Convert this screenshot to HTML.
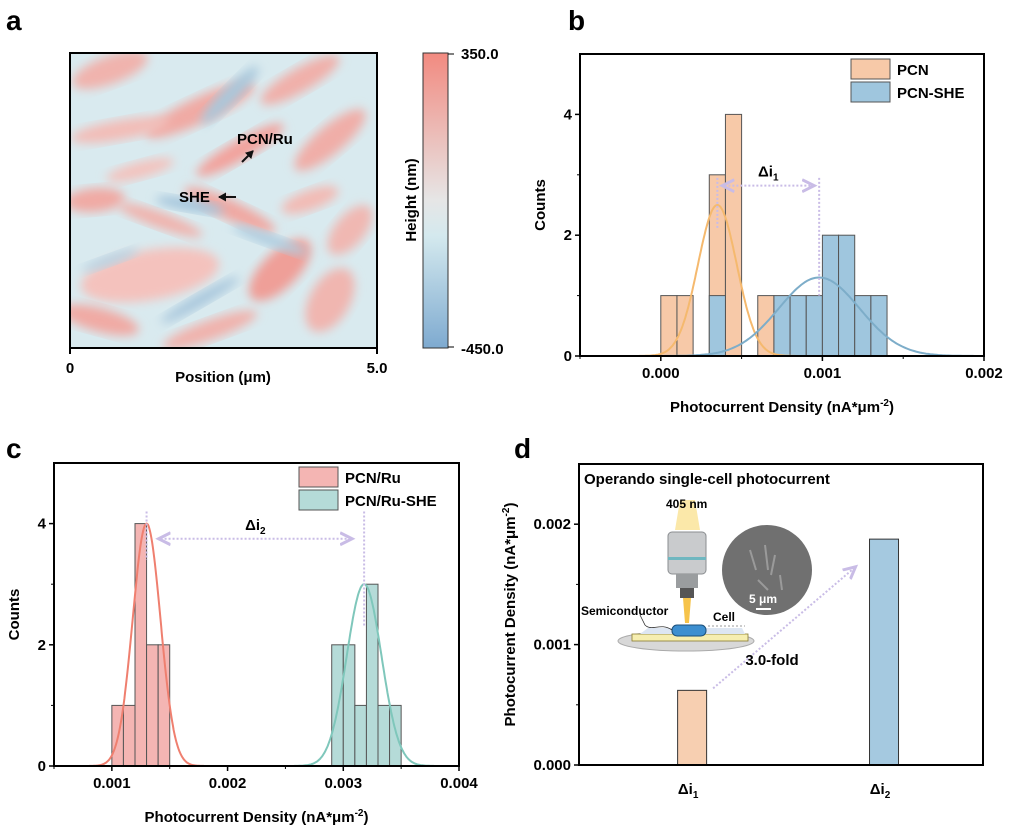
<!DOCTYPE html>
<html><head><meta charset="utf-8">
<style>
html,body{margin:0;padding:0;background:#fff;}
svg{display:block;font-family:"Liberation Sans",Arial,sans-serif;font-weight:bold;}
</style></head>
<body>
<svg id="fig" width="1013" height="829" viewBox="0 0 1013 829" xmlns="http://www.w3.org/2000/svg">
<defs>
<filter id="blur" x="-20%" y="-20%" width="140%" height="140%"><feGaussianBlur stdDeviation="5"/></filter>
<linearGradient id="cbar" x1="0" y1="0" x2="0" y2="1">
<stop offset="0" stop-color="#f28a80"/><stop offset="0.5" stop-color="#e6e6e6"/><stop offset="0.62" stop-color="#d4e9ee"/><stop offset="1" stop-color="#7eaad0"/>
</linearGradient>
<clipPath id="mapclip"><rect x="70" y="53" width="307" height="295"/></clipPath>
<marker id="ah" markerUnits="userSpaceOnUse" markerWidth="9" markerHeight="9" refX="7" refY="4.5" orient="auto"><path d="M0,0 L8,4.5 L0,9 z" fill="#111"/></marker>
<marker id="ahp" markerWidth="8" markerHeight="8" refX="5" refY="4" orient="auto-start-reverse"><path d="M0,1 L6,4 L0,7" fill="none" stroke="#c9bce6" stroke-width="1.5"/></marker>
</defs>

<text x="6" y="30" font-size="28">a</text>
<text x="568" y="30" font-size="28">b</text>
<text x="6" y="458" font-size="28">c</text>
<text x="514" y="458" font-size="28">d</text>

<g id="map" clip-path="url(#mapclip)">
<rect x="70" y="53" width="307" height="295" fill="#d9eaef"/>
</g>
<rect x="70" y="53" width="307" height="295" fill="none" stroke="#000" stroke-width="2"/>
<line x1="70" y1="348" x2="70" y2="354" stroke="#000" stroke-width="2"/>
<line x1="377" y1="348" x2="377" y2="354" stroke="#000" stroke-width="2"/>
<text x="70" y="373" font-size="15" text-anchor="middle">0</text>
<text x="377" y="373" font-size="15" text-anchor="middle">5.0</text>
<text x="223" y="382" font-size="15" text-anchor="middle">Position (μm)</text>
<text x="237" y="144" font-size="15">PCN/Ru</text>
<line x1="242" y1="162" x2="253" y2="151" stroke="#111" stroke-width="2" marker-end="url(#ah)"/>
<text x="179" y="202" font-size="15">SHE</text>
<line x1="236" y1="197" x2="219" y2="197" stroke="#111" stroke-width="2" marker-end="url(#ah)"/>
<rect x="423" y="53" width="25" height="295" fill="url(#cbar)" stroke="#333" stroke-width="1"/>
<line x1="448" y1="54" x2="454" y2="54" stroke="#000"/><line x1="448" y1="347" x2="454" y2="347" stroke="#000"/>
<text x="461" y="59" font-size="15">350.0</text>
<text x="461" y="354" font-size="15">-450.0</text>
<text transform="translate(416,200) rotate(-90)" font-size="15" text-anchor="middle">Height (nm)</text>

<g id="pb"></g>
<g id="pc"></g>
<g id="pd"></g>
</svg>
<script>
const NS="http://www.w3.org/2000/svg";
function mk(parent,tag,attrs,text){const e=document.createElementNS(NS,tag);for(const k in attrs)e.setAttribute(k,attrs[k]);if(text!==undefined)e.textContent=text;parent.appendChild(e);return e;}

const mapG=document.getElementById('map');
const blobs=[[110,70,40,14,-20,'#f0b3ad'],[200,110,60,13,-25,'#f0aaa4'],[240,150,50,10,-30,'#f2a39d'],[300,80,45,12,-30,'#f0b0aa'],[330,140,45,14,-40,'#f0aea8'],[120,130,50,10,-10,'#f2bdb8'],[95,200,30,12,-5,'#f0aaa4'],[160,220,45,8,20,'#f0b3ad'],[230,210,50,10,25,'#f0a8a2'],[150,275,70,25,-10,'#f4c2bd'],[280,270,40,18,-45,'#ef9f98'],[100,320,40,12,15,'#f0aaa4'],[330,300,35,20,-60,'#f0b6b0'],[210,330,50,10,-20,'#f0b3ad'],[350,230,30,15,-50,'#f0b8b2'],[140,170,35,8,-15,'#f3c3be'],[310,200,30,10,-20,'#f2bbb5']];
const blues=[[230,95,40,8,-45,'#a9c8dc'],[190,205,35,6,10,'#a3c4db'],[270,240,40,6,20,'#afcde0'],[200,300,45,6,-30,'#a7c6dc'],[110,260,30,5,-20,'#b6d2e3']];
for(const b of blobs.concat(blues)){
 const e=mk(mapG,'ellipse',{cx:b[0],cy:b[1],rx:b[2],ry:b[3],fill:b[5],transform:`rotate(${b[4]} ${b[0]} ${b[1]})`,filter:'url(#blur)'});
 
 
}

function gauss(x,mu,s,a){return a*Math.exp(-0.5*((x-mu)/s)**2);}

const bBins=[0.0000,0.0001,0.0003,0.0004,0.0006];
const bPCN=[1,1,3,4,1];
const bShBins=[0.0003,0.0007,0.0008,0.0009,0.0010,0.0011,0.0012,0.0013];
const bPCNSHE=[1,1,1,1,2,2,1,1];
const bXTicks=[0.000,0.001,0.002];
const bYTicks=[0,2,4];
const bFitPCN=[0.00035,0.00012,2.5];
const bFitSHE=[0.00098,0.00025,1.3];

const cBins=[0.0010,0.0011,0.0012,0.0013,0.0014];
const cPCNRu=[1,1,4,2,2];
const cShBins=[0.0029,0.0030,0.0031,0.0032,0.0033,0.0034];
const cPCNRuSHE=[2,2,1,3,1,1];
const cXTicks=[0.001,0.002,0.003,0.004];
const cYTicks=[0,2,4];
const cFitRu=[0.0013,0.00012,4];
const cFitSHE=[0.00318,0.00015,3];

const dCats=['Δi1','Δi2'];
const dVals=[0.00062,0.001876];
const dYTicks=[0.000,0.001,0.002];

function histPanel(g,o){
 const X=v=>o.x0+(v-o.xmin)/(o.xmax-o.xmin)*(o.x1-o.x0);
 const Y=v=>o.y1-(v-0)/(o.ymax)*(o.y1-o.y0);
 const bw=0.0001;
 o.series.forEach(s=>{
  s.bins.forEach((b,i)=>{
   const r=mk(g,'rect',{x:X(b),y:Y(s.vals[i]),width:X(b+bw)-X(b),height:Y(0)-Y(s.vals[i]),fill:s.fill,stroke:'#555','stroke-width':1});
   
   
  });
 });
 o.series.forEach(s=>{
  const [mu,sd,a]=s.fit;let d='';
  for(let v=mu-4.5*sd;v<=mu+4.5*sd;v+=sd/20){const xx=X(v);if(xx<o.x0+1||xx>o.x1-1)continue;d+=(d?'L':'M')+xx.toFixed(1)+','+Y(gauss(v,mu,sd,a)).toFixed(1);}
  const p=mk(g,'path',{d,fill:'none',stroke:s.line,'stroke-width':2});
  
  
 });
 const an=o.ann;
 const m1=o.series[0].fit,m2=o.series[1].fit;
 const v1=mk(g,'line',{x1:X(m1[0]),y1:Y(an.v1[0]),x2:X(m1[0]),y2:Y(an.v1[1]),stroke:'#c9bce6','stroke-width':2,'stroke-dasharray':'2,2'});
 
 const v2=mk(g,'line',{x1:X(m2[0]),y1:Y(an.v2[0]),x2:X(m2[0]),y2:Y(an.v2[1]),stroke:'#c9bce6','stroke-width':2,'stroke-dasharray':'2,2'});
 
 const ar=mk(g,'line',{x1:X(m1[0])+an.pad,y1:Y(an.ay),x2:X(m2[0])-an.pad,y2:Y(an.ay),stroke:'#c9bce6','stroke-width':2,'stroke-dasharray':'2,2','marker-start':'url(#ahp)','marker-end':'url(#ahp)'});
 
 const lt=mk(g,'text',{x:(X(m1[0])+X(m2[0]))/2,y:Y(an.ay)-9,'font-size':15,'text-anchor':'middle'});
 
 mk(lt,'tspan',{},'Δi');mk(lt,'tspan',{'font-size':10,dy:4},an.sub);
 const fr=mk(g,'rect',{x:o.x0,y:o.y0,width:o.x1-o.x0,height:o.y1-o.y0,fill:'none',stroke:'#000','stroke-width':2});
 
 o.xt.forEach(t=>{
  mk(g,'line',{x1:X(t),y1:o.y1,x2:X(t),y2:o.y1+5,stroke:'#000','stroke-width':1.5});
  const tx=mk(g,'text',{x:X(t),y:o.y1+22,'font-size':15,'text-anchor':'middle'},t.toFixed(3));
  
 });
 for(let t=o.xmin;t<=o.xmax+1e-9;t+=0.0005){mk(g,'line',{x1:X(t),y1:o.y1,x2:X(t),y2:o.y1+3,stroke:'#000','stroke-width':1});}
 o.yt.forEach(t=>{
  mk(g,'line',{x1:o.x0-5,y1:Y(t),x2:o.x0,y2:Y(t),stroke:'#000','stroke-width':1.5});
  const tx=mk(g,'text',{x:o.x0-8,y:Y(t)+5,'font-size':15,'text-anchor':'end'},String(t));
  
 });
 for(let t=1;t<o.ymax;t+=2){mk(g,'line',{x1:o.x0-3,y1:Y(t),x2:o.x0,y2:Y(t),stroke:'#000','stroke-width':1});}
 const xtit=mk(g,'text',{x:(o.x0+o.x1)/2,y:o.y1+56,'font-size':15,'text-anchor':'middle'});
 
 mk(xtit,'tspan',{},'Photocurrent Density (nA*μm');mk(xtit,'tspan',{'font-size':10,dy:-6},'-2');mk(xtit,'tspan',{dy:6},')');
 const ytit=mk(g,'text',{transform:`translate(${o.x0-35},${(o.y0+o.y1)/2}) rotate(-90)`,'font-size':15,'text-anchor':'middle'},'Counts');
 
 o.series.forEach((s,i)=>{
  const ly=o.leg.y+i*23;
  const sw=mk(g,'rect',{x:o.leg.x,y:ly,width:39,height:20,fill:s.fill,stroke:'#555','stroke-width':1});
  
  const lt2=mk(g,'text',{x:o.leg.x+46,y:ly+16,'font-size':15},s.label);
  
 });
}

const pb=document.getElementById('pb');

histPanel(pb,{x0:580,x1:984,y0:54,y1:356,xmin:-0.0005,xmax:0.002,ymax:5,xt:bXTicks,yt:bYTicks,
 series:[{name:'pcn',label:'PCN',bins:bBins,vals:bPCN,fill:'#f7c9a8',line:'#f5b96e',fit:bFitPCN},
         {name:'pcn-she',label:'PCN-SHE',bins:bShBins,vals:bPCNSHE,fill:'#9fc6de',line:'#7dadc9',fit:bFitSHE}],
 ann:{v1:[2.95,2.1],v2:[2.95,1.0],ay:2.82,pad:7,sub:'1'},leg:{x:851,y:59}});

const pc=document.getElementById('pc');

histPanel(pc,{x0:54,x1:459,y0:463,y1:766,xmin:0.0005,xmax:0.004,ymax:5,xt:cXTicks,yt:cYTicks,
 series:[{name:'pcn-ru',label:'PCN/Ru',bins:cBins,vals:cPCNRu,fill:'#f4b5b3',line:'#ef7f6f',fit:cFitRu},
         {name:'pcn-ru-she',label:'PCN/Ru-SHE',bins:cShBins,vals:cPCNRuSHE,fill:'#b5dbd8',line:'#7fc7bb',fit:cFitSHE}],
 ann:{v1:[4.2,3.4],v2:[4.2,2.3],ay:3.75,pad:14,sub:'2'},leg:{x:299,y:467}});

(function(){
 const g=document.getElementById('pd');
 
 const x0=579,x1=983,y0=464,y1=765,ymax=0.0025;
 const Y=v=>y1-v/ymax*(y1-y0);
 const centers=[0.28,0.755];
 const X=i=>x0+centers[i]*(x1-x0);
 const fills=['#f7cfb1','#a5c9e0'];
 const ill=mk(g,'g',{});
 
 mk(ill,'polygon',{points:'680,500 695,500 700,530 675,530',fill:'#fbe6a0',opacity:0.9});
 mk(ill,'rect',{x:668,y:532,width:38,height:42,rx:4,fill:'#c9cbcd',stroke:'#8a8d90'});
 mk(ill,'rect',{x:668,y:557,width:38,height:3,fill:'#6fb7c0'});
 mk(ill,'rect',{x:676,y:574,width:22,height:14,fill:'#9a9d9f'});
 mk(ill,'rect',{x:680,y:588,width:14,height:10,fill:'#555'});
 mk(ill,'polygon',{points:'683,598 691,598 689,623 685,623',fill:'#f6c34a'});
 mk(ill,'ellipse',{cx:686,cy:641,rx:68,ry:10,fill:'#d8d8d8',stroke:'#aaa'});
 mk(ill,'rect',{x:632,y:634,width:116,height:7,fill:'#f6eeb0',stroke:'#8a7a30','stroke-width':0.8});
 mk(ill,'polygon',{points:'640,634 745,634 742,628 648,628',fill:'#dde6f2'});
 mk(ill,'rect',{x:672,y:625,width:34,height:11,rx:5,fill:'#3d8fd0',stroke:'#1b4f7a'});
 mk(ill,'path',{d:'M672,630 C660,622 652,632 645,625 L640,615',fill:'none',stroke:'#333','stroke-width':0.8});
 mk(ill,'circle',{cx:767,cy:570,r:45,fill:'#707070'});
 mk(ill,'path',{d:'M750,550 l6,20 M765,545 l3,25 M775,555 l-4,20 M758,580 l10,10 M780,575 l2,15',stroke:'#9a9a9a','stroke-width':2,fill:'none'});
 mk(ill,'line',{x1:756,y1:609,x2:771,y2:609,stroke:'#fff','stroke-width':2});
 mk(ill,'line',{x1:708,y1:626,x2:745,y2:626,stroke:'#777','stroke-width':0.8,'stroke-dasharray':'2,2'});
 const t1=mk(g,'text',{x:584,y:484,'font-size':15},'Operando single-cell photocurrent');
 
 const t2=mk(g,'text',{x:666,y:508,'font-size':12},'405 nm');
 
 const t3=mk(g,'text',{x:581,y:615,'font-size':12},'Semiconductor');
 
 const t4=mk(g,'text',{x:713,y:621,'font-size':12},'Cell');
 
 const t5=mk(g,'text',{x:749,y:603,'font-size':12,fill:'#fff'},'5 μm');
 
 dVals.forEach((v,i)=>{
  const r=mk(g,'rect',{x:X(i)-14.5,y:Y(v),width:29,height:Y(0)-Y(v),fill:fills[i],stroke:'#333','stroke-width':1});
  
  const lt=mk(g,'text',{x:X(i)-4,y:y1+29,'font-size':15,'text-anchor':'middle'});
  
  mk(lt,'tspan',{},dCats[i].slice(0,2));mk(lt,'tspan',{'font-size':10,dy:4},dCats[i].slice(2));
 });
 const ar=mk(g,'line',{x1:X(0)+21,y1:Y(dVals[0])-2,x2:X(1)-30,y2:Y(dVals[1])+29,stroke:'#c9bce6','stroke-width':2,'stroke-dasharray':'2,2','marker-end':'url(#ahp)'});
 
 const ft=mk(g,'text',{x:772,y:665,'font-size':15,'text-anchor':'middle'},(dVals[1]/dVals[0]).toFixed(1)+'-fold');
 
 const fr=mk(g,'rect',{x:x0,y:y0,width:x1-x0,height:y1-y0,fill:'none',stroke:'#000','stroke-width':2});
 
 dYTicks.forEach(t=>{
  mk(g,'line',{x1:x0-5,y1:Y(t),x2:x0,y2:Y(t),stroke:'#000','stroke-width':1.5});
  const tx=mk(g,'text',{x:x0-8,y:Y(t)+5,'font-size':15,'text-anchor':'end'},t.toFixed(3));
  
 });
 [0.0005,0.0015].forEach(t=>mk(g,'line',{x1:x0-3,y1:Y(t),x2:x0,y2:Y(t),stroke:'#000','stroke-width':1}));
 const yt=mk(g,'text',{transform:`translate(${x0-64},${(y0+y1)/2}) rotate(-90)`,'font-size':15,'text-anchor':'middle'});
 
 mk(yt,'tspan',{},'Photocurrent Density (nA*μm');mk(yt,'tspan',{'font-size':10,dy:-6},'-2');mk(yt,'tspan',{dy:6},')');
})();
</script>
</body></html>
